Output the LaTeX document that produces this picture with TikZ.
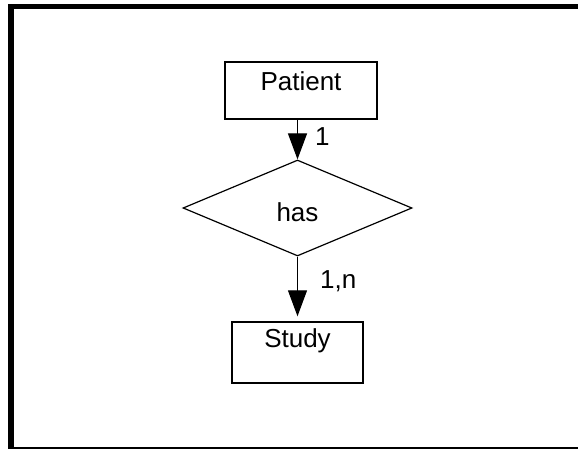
\documentclass[tikz,border=0pt]{standalone}
\usepackage{fontspec}
\setmainfont{Liberation Sans}
\usetikzlibrary{shapes.geometric,arrows.meta}

\begin{document}
\begin{tikzpicture}[x=1pt, y=-1pt,
  every node/.style={font=\fontsize{26}{30}\selectfont},
  entity/.style={draw, line width=1.4pt, inner sep=0pt},
  relation/.style={draw, diamond, line width=1.2pt, inner sep=0pt,
    minimum width=229pt, minimum height=96pt, text height=28pt, text depth=0pt},
  arr/.style={line width=1.2pt, -{Triangle[width=19pt,length=26pt]}},
  card/.style={inner sep=0pt, anchor=base west}] % ER diagram

\clip (0,0) rectangle (578,449);
\draw[line width=5.5pt] (11,6.5) rectangle (600,450);

\node[entity, minimum width=152pt, text height=29pt, text depth=28pt]
  (patient) at (301,90.5) {Patient};
\node[relation] (has) at (297.5,208) {has};
\node[entity, minimum width=131pt, text height=25pt, text depth=36pt]
  (study) at (297.5,352.5) {Study};

\draw[arr] (patient.south -| has.north) -- (has.north)
  node[card, pos=0.66, xshift=17pt] {1};
\draw[arr, shorten >=5pt] (has.south) -- (study.north)
  node[card, pos=0.5, xshift=22pt] {1,n};
\end{tikzpicture}
\end{document}
